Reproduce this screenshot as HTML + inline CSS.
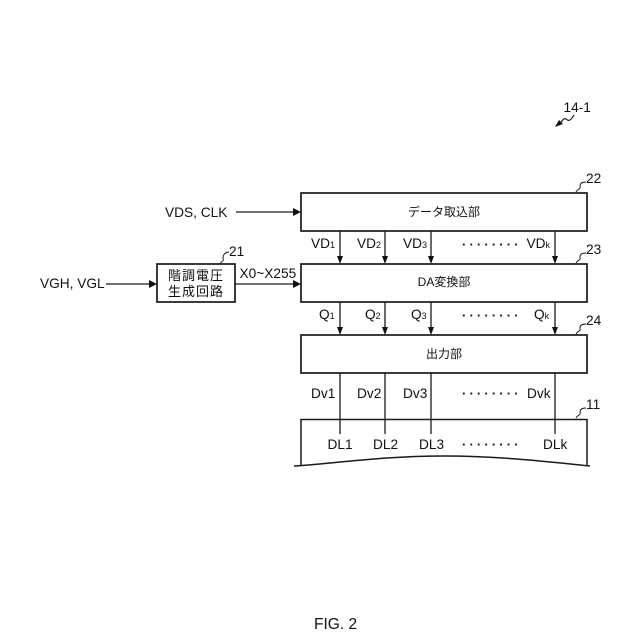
<!DOCTYPE html>
<html lang="ja"><head><meta charset="utf-8"><style>
html,body{margin:0;padding:0;background:#fff}
svg{display:block}
text{font-family:"Liberation Sans","Noto Sans CJK JP",sans-serif;font-size:13.7px;fill:#111}
.j{font-size:12px}
.b{font-size:13px}
.s{font-size:9px}
.d{font-weight:bold;font-size:13px;letter-spacing:3.85px}
</style></head><body>
<svg width="640" height="640" viewBox="0 0 640 640" xmlns="http://www.w3.org/2000/svg">
<g fill="none" stroke="#1a1a1a" stroke-width="1.3">
<rect x="301" y="193" width="286" height="38" stroke-width="1.7"/>
<rect x="301" y="264" width="286" height="38" stroke-width="1.7"/>
<rect x="301" y="335" width="286" height="38" stroke-width="1.7"/>
<rect x="157" y="264" width="78" height="38" stroke-width="1.7"/>
<path d="M301 466V419.5H587V466" stroke-width="1.5"/>
<path d="M294 466C330 464 380 456 445 456C500 456 550 462 590 466" stroke-width="1.5"/>
<path d="M236 212H294M106 284H150M235 284H294"/>
<path d="M340 231V258M385 231V258M431 231V258M555 231V258"/>
<path d="M340 302V329M385 302V329M431 302V329M555 302V329"/>
<path d="M340 373V434M385 373V434M431 373V434M555 373V434"/>
<path d="M576 192C578 188 581 190 580 186C580 183 583 182 586 182" stroke-width="1"/>
<path d="M576 263C578 259 581 261 580 257C580 254 583 253 586 253" stroke-width="1"/>
<path d="M576 334C578 330 581 332 580 328C580 325 583 324 586 324" stroke-width="1"/>
<path d="M576 418C578 414 581 416 580 412C580 409 583 408 586 408" stroke-width="1"/>
<path d="M220 264C222 260 224 262 223 258C223 254 226 252 229 252" stroke-width="1"/>
<path d="M574 115C571 120 569 122 566 119C563 117 562 123 558 124" stroke-width="1.2"/>
</g>
<g fill="#111">
<path d="M293 208L301 212L293 216Z M149 280L157 284L149 288Z M293 280L301 284L293 288Z"/>
<path d="M337 256L343 256L340 264Z M382 256L388 256L385 264Z M428 256L434 256L431 264Z M552 256L558 256L555 264Z"/>
<path d="M337 327L343 327L340 335Z M382 327L388 327L385 335Z M428 327L434 327L431 335Z M552 327L558 327L555 335Z"/>
<path d="M555 127L559 120L563 124Z"/>
</g>
<text x="444" y="216" text-anchor="middle" class="j">データ取込部</text>
<text x="444" y="286" text-anchor="middle" class="j">DA変換部</text>
<text x="444" y="358" text-anchor="middle" class="j">出力部</text>
<text x="168" y="280" class="b" letter-spacing="1">階調電圧</text>
<text x="168" y="296" class="b" letter-spacing="1">生成回路</text>
<text x="165" y="217">VDS, CLK</text>
<text x="40" y="288">VGH, VGL</text>
<text x="239.500" y="278">X0~X255</text>
<text x="311" y="248">VD<tspan class="s">1</tspan></text>
<text x="357" y="248">VD<tspan class="s">2</tspan></text>
<text x="403" y="248">VD<tspan class="s">3</tspan></text>
<text x="526.500" y="248">VD<tspan class="s">k</tspan></text>
<text x="319" y="319">Q<tspan class="s">1</tspan></text>
<text x="365" y="319">Q<tspan class="s">2</tspan></text>
<text x="411" y="319">Q<tspan class="s">3</tspan></text>
<text x="534" y="319">Q<tspan class="s">k</tspan></text>
<text x="311" y="398">Dv1</text>
<text x="357" y="398">Dv2</text>
<text x="403" y="398">Dv3</text>
<text x="527" y="398">Dvk</text>
<text x="327.500" y="449">DL1</text>
<text x="373" y="449">DL2</text>
<text x="419" y="449">DL3</text>
<text x="543" y="449">DLk</text>
<text x="462" y="245.500" class="d">........</text>
<text x="462" y="316.500" class="d">........</text>
<text x="462" y="394.500" class="d">........</text>
<text x="462" y="445.500" class="d">........</text>
<text x="586" y="183">22</text>
<text x="586" y="254">23</text>
<text x="586" y="325">24</text>
<text x="586" y="409">11</text>
<text x="229" y="256">21</text>
<text x="563.500" y="112">14-1</text>
<text x="314" y="629" style="font-size:15.5px">FIG. 2</text>
</svg>
</body></html>
